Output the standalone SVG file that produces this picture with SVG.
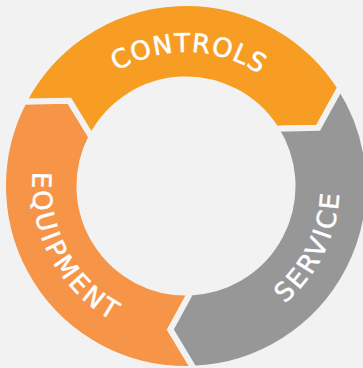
<svg xmlns="http://www.w3.org/2000/svg" width="363" height="368" viewBox="0 0 363 368">
<style>
.seg{stroke:#F2F2F2;stroke-width:6;stroke-linejoin:miter}
.lbl{font-family:"DejaVu Sans","Liberation Sans",sans-serif;font-size:26px;fill:#FFFFFF;stroke:#FFFFFF;stroke-width:0.5;text-anchor:middle}
</style>
<defs>
<path id="pC" d="M 61.14 137.32 A 134 134 0 0 1 312.93 143.04"/>
<path id="pS" d="M 169.96 338.65 A 153.5 153.5 0 0 0 296.42 79.37"/>
<path id="pE" d="M 71.21 84.09 A 153.5 153.5 0 0 0 208.42 337.85"/>
</defs>
<rect x="0" y="0" width="363" height="368" fill="#F2F2F2"/>
<g id="equipment">
<path class="seg" fill="#F69547" d="M 193.98 368.83 A 183 183 0 0 1 23.68 101.50 L 69.39 100.66 L 91.53 136.82 A 106.5 106.5 0 0 0 190.65 292.40 L 170.39 329.65 Z"/>
<text class="lbl" letter-spacing="3"><textPath href="#pE" startOffset="50%">EQUIPMENT</textPath></text>
</g>
<g id="controls">
<path class="seg" fill="#F89D24" d="M 23.68 101.50 A 183 183 0 0 1 340.34 87.67 L 318.21 127.69 L 275.82 128.78 A 106.5 106.5 0 0 0 91.53 136.82 L 69.39 100.66 Z"/>
<text class="lbl" letter-spacing="1"><textPath href="#pC" startOffset="50%">CONTROLS</textPath></text>
</g>
<g id="service">
<path class="seg" fill="#979797" d="M 340.34 87.67 A 183 183 0 0 1 193.98 368.83 L 170.39 329.65 L 190.65 292.40 A 106.5 106.5 0 0 0 275.82 128.78 L 318.21 127.69 Z"/>
<text class="lbl" letter-spacing="2.7"><textPath href="#pS" startOffset="50%">SERVICE</textPath></text>
</g>
<g id="connectors"/>
</svg>
